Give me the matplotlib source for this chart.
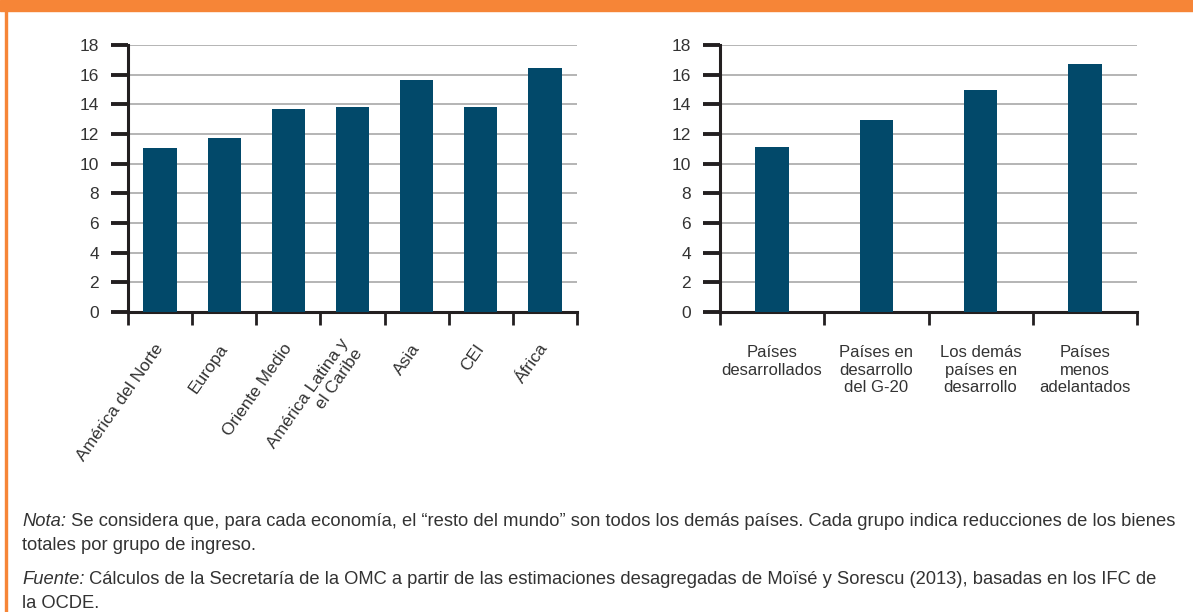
import matplotlib
matplotlib.use("Agg")
import matplotlib.pyplot as plt
from matplotlib.patches import Rectangle

plt.rcParams['font.family'] = ['Liberation Sans', 'DejaVu Sans']

# Datos
regiones = ["América del Norte", "Europa", "Oriente Medio", "América Latina y\nel Caribe",
            "Asia", "CEI", "África"]
valores_regiones = [11.05, 11.7, 13.7, 13.8, 15.65, 13.8, 16.45]

grupos = ["Países\ndesarrollados", "Países en\ndesarrollo\ndel G-20",
          "Los demás\npaíses en\ndesarrollo", "Países\nmenos\nadelantados"]
valores_grupos = [11.1, 12.95, 14.95, 16.72]

y_ticks = list(range(0, 19, 2))

color_barra = "#02496a"
color_texto = "#333333"
naranja = "#f68537"

W, H = 1193, 612
fig = plt.figure(figsize=(W / 100, H / 100), dpi=100)

# Marco naranja
fig.patches.append(Rectangle((0, 1 - 11 / H), 1, 11 / H, transform=fig.transFigure,
                             color=naranja, zorder=0))
fig.patches.append(Rectangle((5 / W, 0), 2 / W, 1, transform=fig.transFigure,
                             color=naranja, zorder=0))


def estilo_ejes(ax, n):
    ax.set_xlim(-0.5, n - 0.5)
    ax.set_ylim(0, 18)
    ax.set_yticks(y_ticks)
    for s in ["top", "right"]:
        ax.spines[s].set_visible(False)
    for s in ["left", "bottom"]:
        ax.spines[s].set_linewidth(2.2)
        ax.spines[s].set_color("#231f20")
    ax.tick_params(axis="y", length=12, width=2.8, color="#231f20", pad=9,
                   labelsize=12.5, labelcolor=color_texto)
    ax.set_xticks([i - 0.5 for i in range(n + 1)])
    ax.set_xticklabels([])
    ax.tick_params(axis="x", which="major", length=9, width=2, color="#231f20")
    ax.set_xticks(range(n), minor=True)
    ax.tick_params(axis="x", which="minor", length=0)
    ax.grid(axis="y", color="#a8a8a8", linewidth=1.2)
    ax.set_axisbelow(True)


# Gráfico izquierdo
ax1 = fig.add_axes([128 / W, 1 - 312 / H, (577 - 128) / W, (312 - 45) / H])
ax1.bar(range(len(regiones)), valores_regiones, width=0.52, color=color_barra, zorder=3)
estilo_ejes(ax1, len(regiones))
ax1.set_xticklabels(regiones, minor=True, rotation=55, ha="right", va="center",
                    rotation_mode="anchor", fontsize=12.5, color=color_texto,
                    multialignment="right")
ax1.tick_params(axis="x", which="minor", pad=24)

# Gráfico derecho
ax2 = fig.add_axes([720 / W, 1 - 312 / H, (1137 - 720) / W, (312 - 45) / H])
ax2.bar(range(len(grupos)), valores_grupos, width=0.32, color=color_barra, zorder=3)
estilo_ejes(ax2, len(grupos))
ax2.set_xticklabels(grupos, minor=True, fontsize=12, color=color_texto,
                    linespacing=1.2, multialignment="center")
ax2.tick_params(axis="x", which="minor", pad=24)

# Notas
fs = 13.2
t1 = fig.text(22 / W, 1 - 530 / H, "Nota:", style="italic", fontsize=fs,
              color=color_texto, va="bottom")
ax1.annotate(" Se considera que, para cada economía, el “resto del mundo” son todos los "
             "demás países. Cada grupo indica reducciones de los bienes",
             xy=(1, 0), xycoords=t1, va="bottom", fontsize=fs, color=color_texto,
             annotation_clip=False)
fig.text(22 / W, 1 - 554 / H, "totales por grupo de ingreso.", fontsize=fs,
         color=color_texto, va="bottom")
t2 = fig.text(22 / W, 1 - 588 / H, "Fuente:", style="italic", fontsize=fs,
              color=color_texto, va="bottom")
ax1.annotate(" Cálculos de la Secretaría de la OMC a partir de las estimaciones desagregadas "
             "de Moïsé y Sorescu (2013), basadas en los IFC de",
             xy=(1, 0), xycoords=t2, va="bottom", fontsize=fs, color=color_texto,
             annotation_clip=False)
fig.text(22 / W, 1 - 612 / H, "la OCDE.", fontsize=fs, color=color_texto, va="bottom")

fig.savefig("out.png", dpi=100)
